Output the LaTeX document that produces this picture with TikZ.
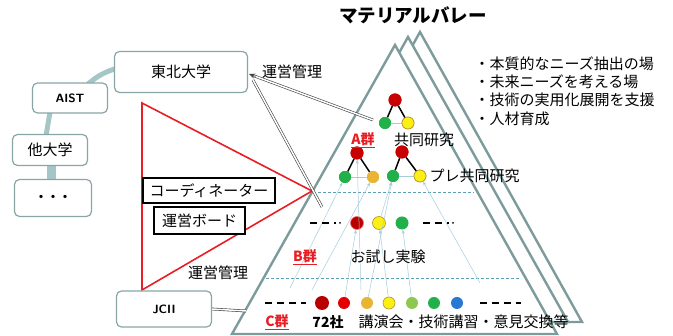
\documentclass[tikz,border=0pt]{standalone}
\usepackage{fontspec}
\setmainfont{Noto Sans CJK JP}
\usetikzlibrary{arrows.meta,calc}
\definecolor{pyr}{RGB}{125,155,155}
\definecolor{boxgray}{RGB}{138,165,165}
\definecolor{band}{RGB}{165,198,198}
\definecolor{sepc}{RGB}{90,160,178}
\definecolor{lb}{RGB}{165,205,222}
\definecolor{rd}{RGB}{232,30,36}
\definecolor{dred}{RGB}{200,0,0}
\definecolor{dkred}{RGB}{185,0,0}
\definecolor{grn}{RGB}{34,176,74}
\definecolor{yel}{RGB}{250,240,20}
\definecolor{org}{RGB}{232,180,50}
\definecolor{lgrn}{RGB}{140,200,80}
\definecolor{blu}{RGB}{40,120,210}
\tikzset{
  jp/.style={font=\fontsize{15}{17}\selectfont},
  box/.style={draw=boxgray, line width=1.2pt, rounded corners=5pt, fill=white, jp},
  blkbox/.style={draw=black, line width=1.6pt, fill=white, jp, inner sep=2pt},
  pyrline/.style={draw=pyr, line width=2.4pt, fill=white, line join=miter},
  sepline/.style={draw=sepc, line width=0.9pt, dash pattern=on 3pt off 2pt},
  dot/.style={circle, inner sep=0pt, minimum size=#1},
  dot/.default=12pt,
  dbl/.style={draw=black!75, double=white, double distance=1.5pt, line width=0.6pt},
  band/.style={draw=band, line width=5pt, line cap=round},
  thin/.style={draw=lb, line width=0.5pt, -{Stealth[length=4pt,width=3pt]}},
  tree/.style={draw=black, line width=1.5pt},
  bdash/.style={draw=black, line width=2pt, dash pattern=on 7pt off 5pt},
  grp/.style={text=rd, font=\fontsize{14}{16}\selectfont\bfseries},
}
\begin{document}
\begin{tikzpicture}[x=1pt,y=-1pt]
\useasboundingbox[fill=white] (0,0) rectangle (673,336);

% back pyramids
\draw[pyrline] (420,32) -- (582,322) -- (258,322) -- cycle;
\draw[pyrline] (408,37) -- (568,322) -- (248,322) -- cycle;
% front pyramid
\draw[pyrline] (395,45) -- (557,334) -- (232,334) -- cycle;

% title
\node[font=\fontsize{18.5}{20}\selectfont\bfseries] (title) at (413,15) {マテリアルバレー};

% bullets
\node[jp, anchor=west, align=left, font=\fontsize{15}{18.2}\selectfont] (bul) at (471,91)
 {・本質的なニーズ抽出の場\\・未来ニーズを考える場\\・技術の実用化展開を支援\\・人材育成};

% separators
\coordinate (s1a) at (318,192); \coordinate (s1b) at (474,192);
\coordinate (s2a) at (266,278); \coordinate (s2b) at (521,278);
\draw[sepline] (s1a) -- (s1b);
\draw[sepline] (s2a) -- (s2b);

% dots
\node[dot=13pt, fill=dred] (ar) at (395,100) {};
\node[dot=12pt, fill=grn] (ag) at (385,123) {};
\node[dot=12pt, fill=yel, draw=org!80!black, line width=0.6pt] (ay) at (408,123) {};
\node[dot=13pt, fill=dred] (lr) at (357,153) {};
\node[dot=12pt, fill=grn] (lg) at (345,177) {};
\node[dot=12pt, fill=org] (ly) at (373,177) {};
\node[dot=13pt, fill=dred] (rr) at (402,152) {};
\node[dot=12pt, fill=grn] (rg) at (393,176) {};
\node[dot=12pt, fill=yel, draw=org!80!black, line width=0.6pt] (ry) at (420,176) {};

\node[dot=13pt, fill=dkred, draw=red!60, line width=0.6pt] (br) at (357,223) {};
\node[dot=13pt, fill=yel, draw=org!80!black, line width=0.6pt] (by) at (379,223) {};
\node[dot=13pt, fill=grn] (bg) at (402,223) {};

\node[dot=14pt, fill=dkred] (c1) at (322,303) {};
\node[dot=12pt, fill=red!90!black] (c2) at (344,303) {};
\node[dot=12pt, fill=org] (c3) at (367,303) {};
\node[dot=12pt, fill=yel, draw=org!80!black, line width=0.6pt] (c4) at (389,303) {};
\node[dot=12pt, fill=lgrn] (c5) at (412,303) {};
\node[dot=12pt, fill=grn] (c6) at (434,303) {};
\node[dot=12pt, fill=blu] (c7) at (457,303) {};

% thin light-blue links
\coordinate (u1) at (290,288);
\coordinate (u2) at (312,290);
\coordinate (u3) at (480,283);
\coordinate (u4) at (361,290);
\draw[thin] (u1) -- (lg);
\draw[thin] (u2) -- (ly);
\draw[thin] (u4) -- (lr);
\draw[thin] (c2) -- (br);
\draw[thin] (c4) -- (by);
\draw[thin] (c5) -- (bg);
\draw[thin] (c3) -- (rg);
\draw[thin] (by) -- (rg);
\draw[thin] (u3) -- (ry);
\draw[draw=lb, line width=0.8pt] (ag) -- (ay);
\draw[draw=lb, line width=0.8pt] (lg) -- (ly);
\draw[draw=lb, line width=0.8pt] (rg) -- (ry);

% trees
\draw[tree] (ar) -- (ag); \draw[tree] (ar) -- (ay);
\draw[tree] (lr) -- (lg); \draw[tree] (lr) -- (ly);
\draw[tree] (rr) -- (rg); \draw[tree] (rr) -- (ry);
% redraw nodes over lines
\node[dot=13pt, fill=dred] at (ar) {};
\node[dot=12pt, fill=grn] at (ag) {};
\node[dot=12pt, fill=yel, draw=org!80!black, line width=0.6pt] at (ay) {};
\node[dot=13pt, fill=dred] at (lr) {};
\node[dot=12pt, fill=grn] at (lg) {};
\node[dot=12pt, fill=org] at (ly) {};
\node[dot=13pt, fill=dred] at (rr) {};
\node[dot=12pt, fill=grn] at (rg) {};

% black dashes
\coordinate (d1a) at (310,223); \coordinate (d1b) at (336,223);
\coordinate (d2a) at (423,223); \coordinate (d2b) at (449,223);
\draw[bdash] (d1a) -- (d1b); \fill (340,223) circle (1pt);
\draw[bdash] (d2a) -- (d2b); \fill (453,223) circle (1pt);
\coordinate (d3a) at (265,303); \coordinate (d3b) at (306,303);
\coordinate (d4a) at (480,303); \coordinate (d4b) at (521,303);
\draw[bdash] (d3a) -- (d3b);
\draw[bdash] (d4a) -- (d4b);

% texts in pyramid
\node[grp] (ga) at (363,140) {\underline{A群}};
\node[jp] (ta) at (424,140) {共同研究};
\node[jp, anchor=west] (tp) at (426,176) {プレ共同研究};
\node[dot=12pt, fill=yel, draw=org!80!black, line width=0.6pt] at (ry) {};
\node[grp] (gb) at (305,257) {\underline{B群}};
\node[jp] (tb) at (388,257) {お試し実験};
\node[grp] (gc) at (277,322) {\underline{C群}};
\node[jp, font=\fontsize{14}{16}\selectfont\bfseries] (t72) at (328,322) {72社};
\node[jp, anchor=west] (tc) at (355,322) {講演会・技術講習・意見交換等};

% left bands
\draw[band] (88,84) to[bend left=12] (118,68);
\draw[band] (50,112) -- (46,136);
\draw[band, line width=9pt, line cap=butt] (51,164) -- (51,181);

% red triangle
\coordinate (r1) at (142,103);
\coordinate (r2) at (312,191);
\coordinate (r3) at (142,290);
\draw[rd, line width=1.6pt, line join=miter] (r1) -- (r2) -- (r3) -- cycle;

% left boxes
\node[box, minimum width=133pt, minimum height=41pt] (tohoku) at (181,72) {東北大学};
\node[box, minimum width=75pt, minimum height=30pt, font=\sffamily\bfseries\fontsize{12}{14}\selectfont] (aist) at (70,98) {AIST};
\node[box, minimum width=75pt, minimum height=31pt] (other) at (50,150) {他大学};
\node[box, minimum width=77pt, minimum height=37pt, font=\bfseries\fontsize{12}{14}\selectfont] (etc) at (53,198) {・・・};
\node[box, minimum width=95pt, minimum height=36pt, font=\sffamily\bfseries\fontsize{12}{14}\selectfont] (jcii) at (164,309) {JCII};

\node[blkbox, minimum width=132pt, minimum height=25pt] (coord) at (209,190.5) {コーディネーター};
\node[blkbox, minimum width=91pt, minimum height=27pt] (board) at (199.5,220.5) {運営ボード};

\node[jp] (unei1) at (292,72) {運営管理};
\node[jp] (unei2) at (218,273) {運営管理};

% double connectors
\coordinate (a1) at (373,120);
\coordinate (a2) at (322,207);
\coordinate (t1) at (249,74);
\coordinate (t2) at (253,80);
\coordinate (jend) at (246,311);
\draw[dbl, shorten >=5pt] (a1) -- (t1);
\draw[-{Stealth[length=6pt,width=5pt]}, black!75, line width=0.6pt] ($(t1)!7pt!(a1)$) -- (t1);
\draw[dbl] (a2) -- (t2);
\draw[dbl] (jcii.east) -- (jend);
\end{tikzpicture}
\end{document}
